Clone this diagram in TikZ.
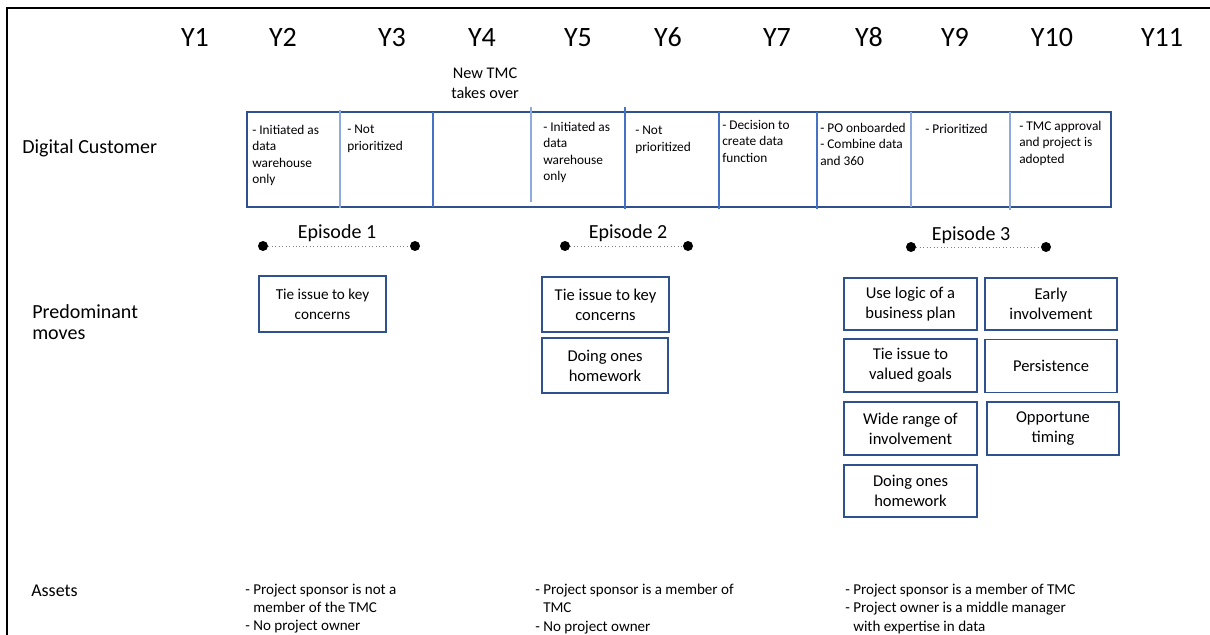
\documentclass[tikz,border=0pt]{standalone}
\usepackage{fontspec}
\setmainfont{Carlito}
\definecolor{boxblue}{RGB}{47,82,143}
\definecolor{midblue}{RGB}{68,114,196}
\definecolor{lightblue}{RGB}{143,170,220}
\begin{document}
\begin{tikzpicture}[x=0.75pt,y=-0.75pt,
  ylab/.style={font=\fontsize{21}{25}\selectfont, anchor=base, inner sep=0pt},
  rowlab/.style={font=\fontsize{15}{15.75}\selectfont, anchor=west, align=left, inner sep=0pt},
  cell/.style={font=\fontsize{10}{12.3}\selectfont, anchor=north west, align=left, inner sep=0pt},
  eplab/.style={font=\fontsize{15}{18}\selectfont, anchor=base, inner sep=0pt},
  epdot/.style={circle, fill=black, inner sep=0pt, minimum size=7.5pt},
  epline/.style={dotted, gray, line width=0.6pt},
  movebox/.style={draw=boxblue, line width=1.1pt, align=center, inner sep=2pt,
    font=\fontsize{12.4}{15}\selectfont},
  asset/.style={font=\fontsize{11.3}{13.6}\selectfont, anchor=north west, align=left, inner sep=0pt},
  divlight/.style={draw=lightblue, line width=1.1pt},
  divdark/.style={draw=midblue, line width=1pt}
]
\useasboundingbox (0,0) rectangle (1210,635);
% frame
\draw[line width=1.6pt] (7,635) -- (7,8) -- (1210,8);

% year labels
\node[ylab] (y1) at (195,47) {Y1};
\node[ylab] (y2) at (283,47) {Y2};
\node[ylab] (y3) at (392,47) {Y3};
\node[ylab] (y4) at (482,47) {Y4};
\node[ylab] (y5) at (578,47) {Y5};
\node[ylab] (y6) at (668,47) {Y6};
\node[ylab] (y7) at (777,47) {Y7};
\node[ylab] (y8) at (869,47) {Y8};
\node[ylab] (y9) at (955,47) {Y9};
\node[ylab] (y10) at (1052,47) {Y10};
\node[ylab] (y11) at (1162,47) {Y11};

\node[font=\fontsize{12.2}{15}\selectfont, align=center, inner sep=0pt] (newtmc) at (485,83) {New TMC\\takes over};

% row labels
\node[rowlab] (digital) at (22,148) {Digital Customer};
\node[rowlab] (predom) at (32,322) {Predominant\\moves};
\node[rowlab, font=\fontsize{13.5}{15}\selectfont] (assets) at (31,591) {Assets};

% timeline table
\draw[draw=boxblue, line width=1.2pt] (247,112) rectangle (1111,207);
\draw[divlight] (340,110) -- (340,208);
\draw[divdark] (433,112) -- (433,207);
\draw[divlight] (531,107) -- (531,202);
\draw[divdark] (625,107) -- (625,209);
\draw[divdark] (719,112) -- (719,209);
\draw[divdark] (817,112) -- (817,209);
\draw[divlight, line width=1.4pt] (911,112) -- (911,207);
\draw[divlight] (1010,112) -- (1010,210);

\node[cell] (c2) at (252,125) {- Initiated as\\data\\warehouse\\only};
\node[cell] (c3) at (347,125) {- Not\\prioritized};
\node[cell] (c5) at (543,122) {- Initiated as\\data\\warehouse\\only};
\node[cell] (c6) at (635,126) {- Not\\prioritized};
\node[cell] (c7) at (722,120) {- Decision to\\create data\\function};
\node[cell] (c8) at (820,123) {- PO onboarded\\- Combine data\\and 360};
\node[cell] (c9) at (925,124) {- Prioritized};
\node[cell] (c10) at (1019,121) {- TMC approval\\and project is\\adopted};

% episodes
\node[eplab] (ep1) at (337,238) {Episode 1};
\node[epdot] (e1a) at (263,246) {};
\node[epdot] (e1b) at (415,246) {};
\draw[epline] (e1a) -- (e1b);

\node[eplab] (ep2) at (628,238) {Episode 2};
\node[epdot] (e2a) at (565,246) {};
\node[epdot] (e2b) at (688,246) {};
\draw[epline] (e2a) -- (e2b);

\node[eplab] (ep3) at (971,240) {Episode 3};
\node[epdot] (e3a) at (911,247) {};
\node[epdot] (e3b) at (1046,247) {};
\draw[epline] (e3a) -- (e3b);

% moves
\node[movebox, minimum width=95.25pt, minimum height=42pt, font=\fontsize{11.4}{15}\selectfont] (m1) at (322.5,304) {Tie issue to key\\concerns};
\node[movebox, minimum width=95.25pt, minimum height=41.25pt] (m2a) at (605.5,304.5) {Tie issue to key\\concerns};
\node[movebox, minimum width=94.5pt, minimum height=41.25pt] (m2b) at (605,365.5) {Doing ones\\homework};

\node[movebox, minimum width=99.75pt, minimum height=39pt] (m3a) at (910.5,304) {Use logic of a\\business plan};
\node[movebox, minimum width=99.75pt, minimum height=39.75pt] (m3b) at (910.5,365.5) {Tie issue to\\valued goals};
\node[movebox, minimum width=99.75pt, minimum height=39.75pt] (m3c) at (910.5,428.5) {Wide range of\\involvement};
\node[movebox, minimum width=99.75pt, minimum height=39pt] (m3d) at (910.5,491) {Doing ones\\homework};
\node[movebox, minimum width=99pt, minimum height=39pt] (m3e) at (1051,304) {Early\\involvement};
\node[movebox, minimum width=99pt, minimum height=39.75pt] (m3f) at (1051,366) {Persistence};
\node[movebox, minimum width=99pt, minimum height=39.75pt] (m3g) at (1053,428.5) {Opportune\\timing};

% assets
\node[asset] (a1) at (245,584) {- Project sponsor is not a\\\hspace*{0.53em}member of the TMC\\- No project owner};
\node[asset] (a2) at (535,584) {- Project sponsor is a member of\\\hspace*{0.53em}TMC\\- No project owner};
\node[asset] (a3) at (845,584) {- Project sponsor is a member of TMC\\- Project owner is a middle manager\\\hspace*{0.53em}with expertise in data};
\end{tikzpicture}
\end{document}
